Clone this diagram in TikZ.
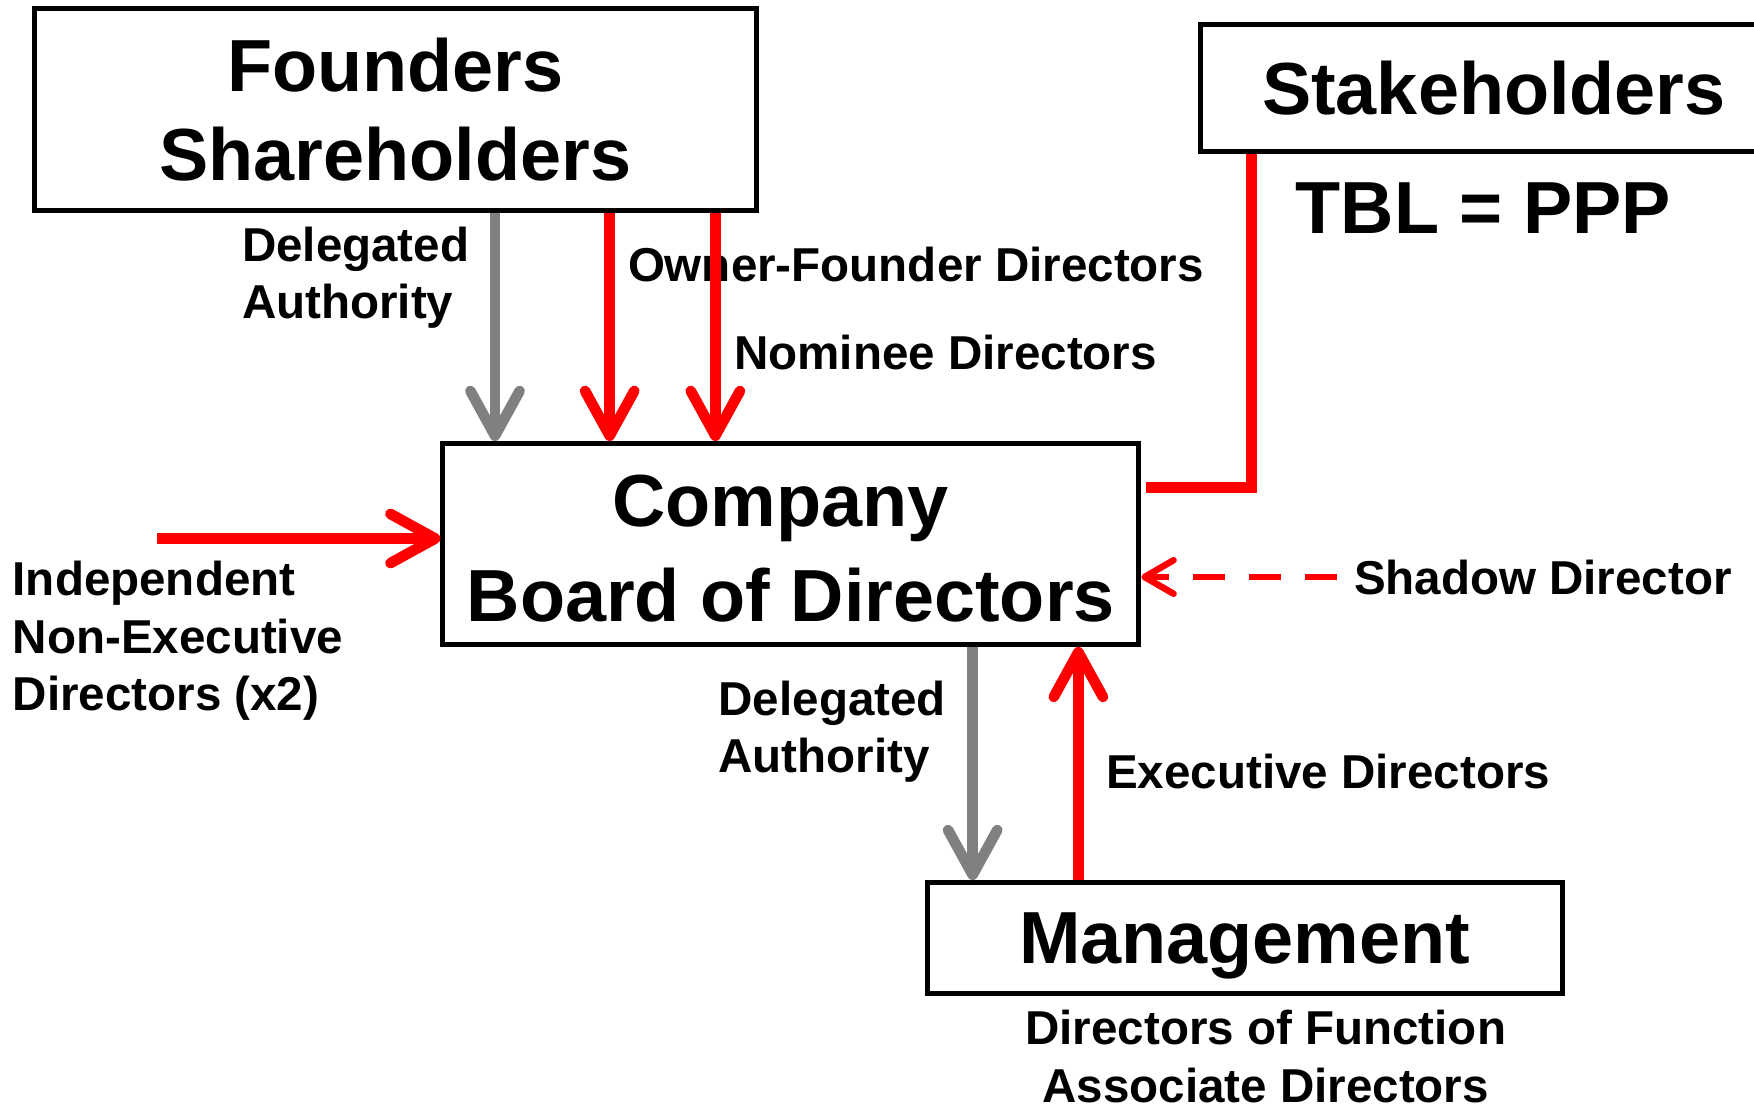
\documentclass[tikz,border=0pt]{standalone}
\usepackage{fontspec}
\setmainfont{Liberation Sans}
\usetikzlibrary{arrows.meta}
\definecolor{arrred}{RGB}{255,0,0}
\definecolor{arrgray}{RGB}{128,128,128}
\begin{document}
\begin{tikzpicture}[x=0.5pt,y=-0.5pt,
  box/.style={draw=black, line width=2.25pt, inner sep=0pt, align=center,
    font=\fontsize{33}{40}\selectfont\bfseries},
  lbl/.style={inner sep=0pt, anchor=base west, align=left,
    font=\fontsize{21.25}{25.75}\selectfont\bfseries},
  biglbl/.style={inner sep=0pt, anchor=base west,
    font=\fontsize{33}{40}\selectfont\bfseries},
  chev/.style={-{Straight Barb[length=20pt,width=22pt,line cap=round,line join=round]}},
  redarrow/.style={draw=arrred, line width=4.75pt, chev},
  grayarrow/.style={draw=arrgray, line width=4.75pt, chev},
  redline/.style={draw=arrred, line width=4.75pt},
  shadowarrow/.style={draw=arrred, line width=2.9pt, dash pattern=on 14.25pt off 10.75pt,
    -{Straight Barb[length=13pt,width=15pt,line cap=round,line join=round]}}
]
\useasboundingbox (0,0) rectangle (1568,992.3);

% boxes
\node[box, minimum width=322.5pt, minimum height=90pt] (founders) at (353.5,98)
  {Founders\\Shareholders};
\node[box, minimum width=311pt, minimum height=89.75pt,
  font=\fontsize{33}{42.5}\selectfont\bfseries] (company) at (707,486.25)
  {\raisebox{-2pt}[\height][\depth]{Company\kern0.278em}\\\raisebox{-2pt}[\height][\depth]{Board of Directors}};
\node[box, minimum width=262.5pt, minimum height=57pt] (stake) at (1335.5,78.5)
  {Stakeholders};
\node[box, minimum width=283.75pt, minimum height=49.5pt, text depth=0pt] (mgmt) at (1112.75,838.5)
  {Management};

% labels
\node[biglbl] (tbl) at (1158,209) {TBL = PPP};
\node[lbl] (delA) at (216,285) {Delegated\\Authority};
\node[lbl] (owner) at (561,251.6) {Owner-Founder Directors};
\node[lbl] (nominee) at (656,330.7) {Nominee Directors};
\node[lbl] (indep) at (11,635.4) {Independent\\Non-Executive\\Directors (x2)};
\node[lbl] (shadow) at (1210,531.6) {Shadow Director};
\node[lbl] (delB) at (642,690.8) {Delegated\\Authority};
\node[lbl] (exec) at (988.5,705) {Executive Directors};
\node[lbl, anchor=base, align=center] (mgmtsub) at (1131.5,985.5)
  {Directors of Function\\Associate Directors};

% helper coordinates
\coordinate (g1) at (442.5,0);
\coordinate (r1) at (545,0);
\coordinate (r2) at (639.5,0);
\coordinate (indA) at (140,481.4);
\coordinate (sk) at (1119,0);
\coordinate (skc) at (1119,435.8);
\coordinate (sh) at (1195,515.8);
\coordinate (g2) at (869.5,0);
\coordinate (r3) at (964,0);

% connectors
\draw[grayarrow] (founders.south -| g1) -- (company.north -| g1);
\draw[redarrow] (founders.south -| r1) -- (company.north -| r1);
\draw[redarrow] (founders.south -| r2) -- (company.north -| r2);
\draw[redarrow] (indA) -- (indA -| company.west);
\draw[redline] (stake.south -| sk) -- (skc) -- ([xshift=2pt]skc -| company.east);
\draw[shadowarrow] (sh) -- (sh -| company.east);
\draw[grayarrow] (company.south -| g2) -- (mgmt.north -| g2);
\draw[redarrow] (mgmt.north -| r3) -- (company.south -| r3);
\end{tikzpicture}
\end{document}
